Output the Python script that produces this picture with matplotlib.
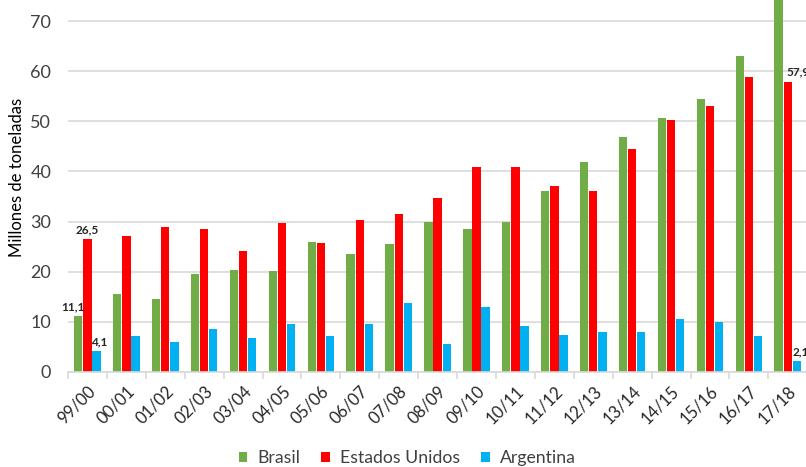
import matplotlib
matplotlib.use("Agg")
import matplotlib.pyplot as plt
import numpy as np

plt.rcParams['font.family'] = ['Lato', 'DejaVu Sans']

categories = ["99/00", "00/01", "01/02", "02/03", "03/04", "04/05", "05/06", "06/07",
              "07/08", "08/09", "09/10", "10/11", "11/12", "12/13", "13/14", "14/15",
              "15/16", "16/17", "17/18"]
brasil = [11.1, 15.5, 14.5, 19.6, 20.4, 20.1, 26.0, 23.5, 25.5, 30.0, 28.5, 30.0,
          36.2, 41.8, 46.8, 50.6, 54.4, 63.0, 76.0]
estados_unidos = [26.5, 27.1, 29.0, 28.5, 24.1, 29.8, 25.7, 30.3, 31.5, 34.8, 40.8, 40.9,
                  37.1, 36.1, 44.5, 50.2, 53.0, 58.9, 57.9]
argentina = [4.1, 7.2, 5.9, 8.6, 6.7, 9.5, 7.1, 9.5, 13.8, 5.5, 13.0, 9.1,
             7.4, 7.9, 7.9, 10.5, 10.0, 7.1, 2.1]
series_names = ["Brasil", "Estados Unidos", "Argentina"]
colors = ["#70AD47", "#FF0000", "#00B0F0"]

fig = plt.figure(figsize=(8.06, 4.67), dpi=100)
ax = fig.add_axes([68/806, 95/467, 740/806, 372/467])

x = np.arange(len(categories))
w = 0.215
offs = [-0.235, 0.0, 0.235]
for vals, off, c, name in zip([brasil, estados_unidos, argentina], offs, colors, series_names):
    ax.bar(x + off, vals, width=w, color=c, label=name, zorder=2)

ax.set_xlim(-0.5, len(categories) - 0.5 + 0.02)
ax.set_ylim(0, 74.2)
ax.set_yticks(np.arange(0, 71, 10))
ax.yaxis.grid(True, color="#D9D9D9", linewidth=1.2, zorder=0)
ax.set_axisbelow(True)
for s in ["top", "right", "left"]:
    ax.spines[s].set_visible(False)
ax.spines["bottom"].set_color("#D9D9D9")
ax.spines["bottom"].set_linewidth(1.2)

ax.set_xticks(x)
ax.set_xticklabels(categories, rotation=45, ha="right", rotation_mode="anchor",
                   fontsize=12, color="#262626")
ax.tick_params(axis="x", length=0, pad=8)
ax.set_xticks(np.arange(-0.5, len(categories), 1), minor=True)
ax.tick_params(axis="x", which="minor", length=5, color="#D9D9D9", width=1.2)
ax.tick_params(axis="y", length=0, labelsize=13, labelcolor="#404040", pad=12)

ax.set_ylabel("Millones de toneladas", fontsize=12, color="#000000")
ax.yaxis.set_label_coords(-0.058, 0.524)

lab_kw = dict(fontsize=8.5, fontweight="bold", color="#262626")
ax.annotate("11,1", (0 + offs[0], brasil[0]), xytext=(-4, 3), textcoords="offset points", ha="center", va="bottom", **lab_kw)
ax.annotate("26,5", (0 + offs[1], estados_unidos[0]), xytext=(0, 3), textcoords="offset points", ha="center", va="bottom", **lab_kw)
ax.annotate("4,1", (0 + offs[2], argentina[0]), xytext=(2, 3), textcoords="offset points", ha="center", va="bottom", **lab_kw)
n = len(categories) - 1
ax.annotate("57,9", (n + offs[1], estados_unidos[n]), xytext=(-1, 3), textcoords="offset points", ha="left", va="bottom", annotation_clip=False, **lab_kw)
ax.annotate("2,1", (n + offs[2], argentina[n]), xytext=(-3, 3), textcoords="offset points", ha="left", va="bottom", annotation_clip=False, **lab_kw)

leg = fig.legend(loc="center", bbox_to_anchor=(407/806, 9/467), ncol=3, frameon=False,
                 fontsize=12.7, handlelength=0.5, handleheight=0.5, handletextpad=0.55,
                 columnspacing=1.2, borderpad=0)
for t in leg.get_texts():
    t.set_color("#404040")

fig.savefig("out.png", dpi=100)
